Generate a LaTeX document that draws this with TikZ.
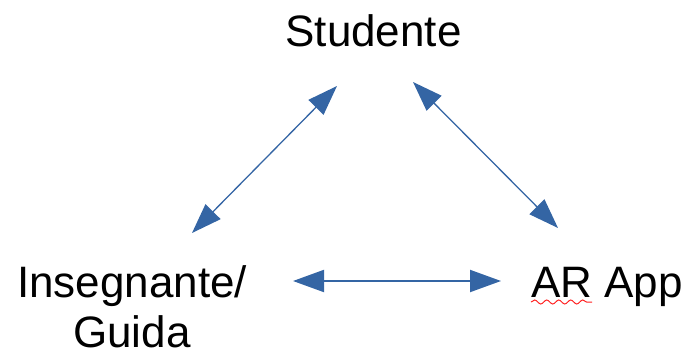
\documentclass[tikz,border=0pt]{standalone}
\usepackage{fontspec}
\setmainfont{Liberation Sans}
\usetikzlibrary{arrows.meta,decorations.pathmorphing}
\definecolor{arrowblue}{HTML}{3465A4}
\definecolor{spellred}{HTML}{FF2020}
\begin{document}
\begin{tikzpicture}[x=1pt,y=1pt,
  lbl/.style={inner sep=0pt,font=\fontsize{44}{49.5}\selectfont},
  biarrow/.style={arrowblue,line width=1.3pt,
    {Triangle[length=30pt,width=21pt]}-{Triangle[length=30pt,width=21pt]}},
  biarrowthick/.style={arrowblue,line width=2pt,
    {Triangle[length=31pt,width=22pt]}-{Triangle[length=31pt,width=22pt]}}]
\useasboundingbox (0,0) rectangle (684,356);
\node[lbl,anchor=base] (stud) at (373.5,309) {Studente};
\node[lbl,anchor=base,align=center] (ins) at (132,9) {Insegnante/\\Guida};
\node[lbl,anchor=base west] (app) at (531,59) {AR App};
\draw[spellred,line width=1pt,decorate,decoration={snake,segment length=12pt,amplitude=2pt}]
  ([yshift=-5pt]app.base west) -- ([xshift=61pt,yshift=-5pt]app.base west);
\coordinate (a1s) at (192,123);
\coordinate (a1e) at (337,270);
\coordinate (a2s) at (413,274);
\coordinate (a2e) at (558,128);
\coordinate (a3s) at (293,75);
\coordinate (a3e) at (501,75);
\draw[biarrow] (a1s) -- (a1e);
\draw[biarrow] (a2s) -- (a2e);
\draw[biarrowthick] (a3s) -- (a3e);
\end{tikzpicture}
\end{document}
